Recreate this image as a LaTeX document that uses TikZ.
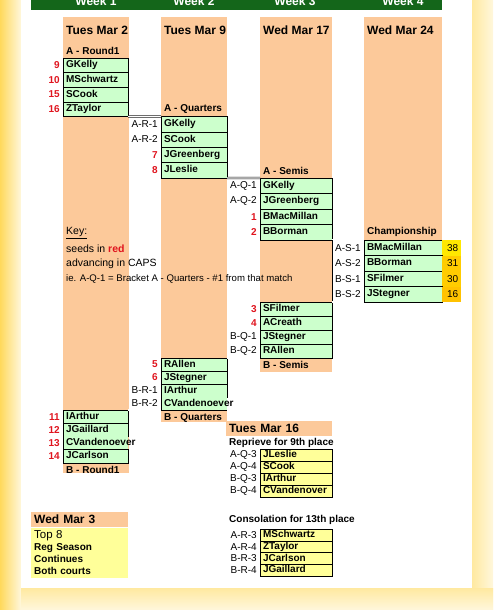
\documentclass[tikz,border=0pt]{standalone}
\usepackage{fontspec}
\setmainfont{Liberation Sans}
\definecolor{cpeach}{HTML}{FCC99A}
\definecolor{cmint}{HTML}{CCFFCC}
\definecolor{cnote}{HTML}{FFFF99}
\definecolor{cgreen}{HTML}{14661A}
\definecolor{cseed}{HTML}{E0141E}
\definecolor{cbg}{HTML}{FFF7DC}
\definecolor{cglow}{HTML}{FFE9A0}
\definecolor{cband}{HTML}{FFD95C}
\definecolor{cfirst}{HTML}{FFE800}
\definecolor{cgold}{HTML}{FFCC00}
\definecolor{camber}{HTML}{FFC200}
\tikzset{
  every picture/.style={x=1pt, y=-1pt},
  namebox/.style={draw, line width=0.6pt, fill=#1, anchor=north west, outer sep=0pt,
    inner xsep=3pt, inner ysep=0pt, align=left, text height=7pt, text depth=2pt,
    font=\fontsize{10}{12}\selectfont\bfseries},
  namebox/.default=cmint,
  openbox/.style={namebox, draw=none},
  seed/.style={anchor=east, inner sep=0pt, xshift=-3pt, text=cseed, font=\fontsize{10}{12}\selectfont\bfseries},
  mlabel/.style={anchor=east, inner sep=0pt, xshift=-3pt, font=\fontsize{10}{12}\selectfont},
  score/.style={anchor=north west, fill=#1, inner xsep=3pt, inner ysep=0pt, minimum height=15.5pt,
    text width=13pt, align=right, font=\fontsize{10}{12}\selectfont},
  day/.style={anchor=west, inner sep=0pt, font=\fontsize{12}{14}\selectfont\bfseries},
  dayhead/.style={day, anchor=north west, fill=cpeach, inner xsep=3pt, inner ysep=0pt,
    minimum height=15pt, text width=#1, align=left},
  stage/.style={anchor=south west, inner sep=3pt, font=\fontsize{10}{12}\selectfont\bfseries},
  subhead/.style={anchor=west, inner sep=0pt, font=\fontsize{10}{12}\selectfont\bfseries},
  keytxt/.style={anchor=west, inner sep=0pt, font=\fontsize{10.5}{12}\selectfont},
  week/.style={anchor=base, inner sep=0pt, text=white, font=\fontsize{12}{14}\selectfont\bfseries},
  dbl/.style={double, double distance=1.3pt, line width=0.5pt},
  edge/.style={line width=0.6pt},
}
\begin{document}
\begin{tikzpicture}
  \useasboundingbox (0,0) rectangle (493,610);
  \clip (0,0) rectangle (493,610);
  % page and panel
  \fill[cbg] (0,0) rectangle (493,610);
  \shade[left color=cband, right color=cbg] (0,0) rectangle (21,610);
  \shade[left color=cglow, right color=cbg] (472,0) rectangle (493,610);
  \shade[top color=cglow, bottom color=cbg] (21,588) rectangle (493,610);
  \fill[white] (21,0) rectangle (472,588);
  \fill[cgreen] (31,0) rectangle (442,10);
  \foreach \w/\x in {1/96, 2/194, 3/295, 4/403}
    \node[week] (wk\w) at (\x,6) {Week \w};
  % columns
  \fill[cpeach] (63,17) rectangle (128.5,473);
  \fill[cpeach] (161,17) rectangle (227,422);
  \fill[cpeach] (260,17) rectangle (332,372);
  \fill[cpeach] (364,17) rectangle (442,240);
  \node[day] (d1) at (66,30) {Tues Mar 2};
  \node[day] (d2) at (164,30) {Tues Mar 9};
  \node[day] (d3) at (263,30) {Wed Mar 17};
  \node[day] (d4) at (367,30) {Wed Mar 24};

  % bracket A
  \foreach \s/\n [count=\i] in {9/GKelly, 10/MSchwartz, 15/SCook, 16/ZTaylor}{
    \node[namebox, text width=59pt, minimum height=14.6pt] (ra\i) at (63,{58+14.6*(\i-1)}) {\n};
    \node[seed] (sra\i) at (ra\i.west) {\s};
  }
  \foreach \t/\l/\n [count=\i] in {mlabel/A-R-1/GKelly, mlabel/A-R-2/SCook, seed/7/JGreenberg, seed/8/JLeslie}{
    \node[namebox, text width=60pt, minimum height=15.4pt] (qa\i) at (161,{116.4+15.4*(\i-1)}) {\n};
    \node[\t] (lqa\i) at (qa\i.west) {\l};
  }
  \foreach \t/\l/\n [count=\i] in {mlabel/A-Q-1/GKelly, mlabel/A-Q-2/JGreenberg, seed/1/BMacMillan, seed/2/BBorman}{
    \node[namebox, text width=66pt, minimum height=15.5pt] (sa\i) at (260,{178+15.5*(\i-1)}) {\n};
    \node[\t] (lsa\i) at (sa\i.west) {\l};
  }
  % final
  \foreach \l/\n/\p/\c [count=\i] in {A-S-1/BMacMillan/38/cfirst, A-S-2/BBorman/31/cgold, B-S-1/SFilmer/30/cgold, B-S-2/JStegner/16/camber}{
    \node[namebox, text width=72pt, minimum height=15.5pt] (ch\i) at (364,{240+15.5*(\i-1)}) {\n};
    \node[mlabel] (lch\i) at (ch\i.west) {\l};
    \node[score=\c] (pt\i) at (ch\i.north east) {\p};
  }
  % bracket B
  \foreach \t/\l/\n [count=\i] in {seed/3/SFilmer, seed/4/ACreath, mlabel/B-Q-1/JStegner, mlabel/B-Q-2/RAllen}{
    \node[namebox, text width=66pt, minimum height=14pt] (sb\i) at (260,{302+14*(\i-1)}) {\n};
    \node[\t] (lsb\i) at (sb\i.west) {\l};
  }
  \foreach \t/\l/\n/\b [count=\i] in {seed/5/RAllen/namebox, seed/6/JStegner/namebox, mlabel/B-R-1/IArthur/namebox, mlabel/B-R-2/CVandenoever/openbox}{
    \node[\b, text width=60pt, minimum height=13pt] (qb\i) at (161,{358+13*(\i-1)}) {\n};
    \node[\t] (lqb\i) at (qb\i.west) {\l};
  }
  \foreach \s/\n/\b [count=\i] in {11/IArthur/namebox, 12/JGaillard/namebox, 13/CVandenoever/openbox, 14/JCarlson/namebox}{
    \node[\b, text width=59pt, minimum height=13.2pt] (rb\i) at (63,{410+13.2*(\i-1)}) {\n};
    \node[seed] (srb\i) at (rb\i.west) {\s};
  }
  \draw[edge] (qb4.north west) -- (qb4.south west) -- (qb4.south east);
  \draw[edge] (rb3.north west) -- (rb3.south west);

  % stage titles
  \node[stage] (t1) at (ra1.north west) {A - Round1};
  \node[stage] (t2) at (qa1.north west) {A - Quarters};
  \node[stage] (t3) at (sa1.north west) {A - Semis};
  \node[stage] (t4) at (ch1.north west) {Championship};
  \node[stage, anchor=north west] (t5) at (sb4.south west) {B - Semis};
  \node[stage, anchor=north west] (t6) at (qb4.south west) {B - Quarters};
  \node[stage, anchor=north west] (t7) at (rb4.south west) {B - Round1};

  % links between rounds
  \draw[dbl] (ra4.south east) -- (qa1.north west);
  \draw[dbl] (qa4.south east) -- (sa1.north west);
  \draw[dbl] (sa4.south east) -- (ch1.north west);
  \draw[edge] (sa4.south east) -- (sb1.north east);
  \draw[dbl] (sb1.north east) -- (ch4.south west);
  \draw[dbl] (sb4.south west) -- (qb1.north east);
  \draw[dbl] (qb4.south west) -- (rb1.north east);

  % key
  \node[keytxt] (key1) at (66,233) {\underline{Key:}};
  \node[keytxt] (key2) at (66,249) {seeds in \textcolor{cseed}{\bfseries red}};
  \node[keytxt] (key3) at (66,264) {advancing in CAPS};
  \node[keytxt, font=\fontsize{9.6}{11}\selectfont] (key4) at (66,279) {ie. A-Q-1 = Bracket A - Quarters - \#1 from that match};

  % off week
  \node[dayhead=91pt] (wed3) at (31,512) {Wed Mar 3};
  \node[anchor=north west, fill=cnote, inner xsep=3pt, inner ysep=2pt, text width=91pt, minimum height=50pt,
    align=left, font=\fontsize{10}{12}\selectfont\bfseries] (season) at (wed3.south west)
    {{\mdseries\fontsize{11.5}{12}\selectfont Top 8}\\Reg Season\\Continues\\Both courts};

  % reprieve and consolation
  \node[dayhead=100pt] (tue16) at (226,421) {Tues Mar 16};
  \node[subhead] (repr) at (229,443) {Reprieve for 9th place};
  \foreach \l/\n [count=\i] in {A-Q-3/JLeslie, A-Q-4/SCook, B-Q-3/IArthur, B-Q-4/CVandenover}{
    \node[namebox=cnote, text width=66pt, minimum height=12pt] (rp\i) at (260,{449+12*(\i-1)}) {\n};
    \node[mlabel] (lrp\i) at (rp\i.west) {\l};
  }
  \node[subhead] (cons) at (229,520) {Consolation for 13th place};
  \foreach \l/\n [count=\i] in {A-R-3/MSchwartz, A-R-4/ZTaylor, B-R-3/JCarlson, B-R-4/JGaillard}{
    \node[namebox=cnote, text width=66pt, minimum height=11.8pt] (cs\i) at (260,{529+11.8*(\i-1)}) {\n};
    \node[mlabel] (lcs\i) at (cs\i.west) {\l};
  }
\end{tikzpicture}
\end{document}
